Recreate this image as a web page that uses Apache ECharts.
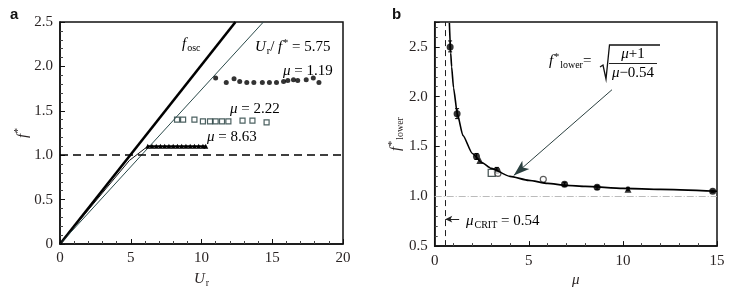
<!DOCTYPE html>
<html>
<head>
<meta charset="utf-8">
<script src="https://cdn.jsdelivr.net/npm/echarts@6/dist/echarts.min.js"></script>
<style>
  html, body { margin: 0; padding: 0; background: #fff; }
  #chart { width: 745px; height: 293px; }
</style>
</head>
<body>
<div id="chart"></div>
<script>
// ---- panel a: f* vs Ur ----
const foscLine = [[0, 0], [12.4, 2.5]]
const ratioLine = [[0, 0], [14.375, 2.5]]
const lowBranch = [[0, 0], [4.9, 0.94], [6.2, 1.1]]
const mu119 = [[11.0, 1.87], [11.75, 1.82], [12.3, 1.86], [12.7, 1.83], [13.2, 1.82], [13.7, 1.82], [14.3, 1.82],
  [14.8, 1.82], [15.3, 1.82], [15.8, 1.83], [16.1, 1.84], [16.5, 1.85], [16.8, 1.84], [17.4, 1.85], [17.9, 1.87], [18.3, 1.82]]
const mu222 = [[8.27, 1.40], [8.7, 1.40], [9.5, 1.40], [10.1, 1.38], [10.6, 1.38], [11.0, 1.38], [11.45, 1.38],
  [11.9, 1.38], [12.9, 1.39], [13.6, 1.39], [14.6, 1.37]]
const mu863 = [[6.2, 1.1], [6.5, 1.1], [6.8, 1.1], [7.1, 1.1], [7.4, 1.1], [7.7, 1.1], [8.0, 1.1], [8.3, 1.1],
  [8.6, 1.1], [8.9, 1.1], [9.2, 1.1], [9.5, 1.1], [9.8, 1.1], [10.1, 1.1], [10.3, 1.1]]

// ---- panel b: f*lower vs mu ----
const curveMu = [0.78, 0.85, 0.9, 1.0, 1.2, 1.5, 2, 2.5, 3, 4, 5, 6, 7, 8, 10, 12, 15]
const curveF = [2.74, 2.44, 2.30, 2.09, 1.83, 1.61, 1.43, 1.34, 1.28, 1.20, 1.16, 1.13, 1.11, 1.10, 1.08, 1.07, 1.05]
const filledPts = [[0.82, 2.5], [1.19, 1.83], [2.22, 1.40], [3.3, 1.26], [6.9, 1.12], [8.63, 1.09], [14.77, 1.05]]
const trianglePts = [[2.4, 1.36], [10.27, 1.07]]
const squarePts = [[3.03, 1.235]]
const circlePts = [[3.36, 1.23], [5.77, 1.17]]
const errorBars = [[0.82, 2.45, 2.56], [1.19, 1.78, 1.88], [2.22, 1.37, 1.43], [3.3, 1.23, 1.29],
  [6.9, 1.10, 1.14], [8.63, 1.07, 1.11], [10.27, 1.06, 1.09], [14.77, 1.04, 1.06]]
const muCrit = 0.54

const serif = '"Liberation Serif", "DejaVu Serif", serif'
const ink = '#2a2424'

const rich = {
  i: { fontFamily: serif, fontStyle: 'italic', fontSize: 15, color: ink },
  n: { fontFamily: serif, fontSize: 15, color: ink },
  sub: { fontFamily: serif, fontSize: 10, color: ink, padding: [8, 0, 0, 1] },
  sup: { fontFamily: serif, fontSize: 10, color: ink, padding: [0, 0, 8, 1] }
}

function label(x, y, text, align) {
  return {
    type: 'text', x: x, y: y, silent: true,
    style: { text: text, rich: rich, align: align || 'left', verticalAlign: 'middle' }
  }
}

function valueAxis(opt) {
  return Object.assign({
    type: 'value',
    axisLine: { show: true, lineStyle: { color: '#111', width: 1.5 } },
    axisTick: { show: true, inside: true, length: 5, lineStyle: { color: '#111' } },
    minorTick: { show: true, splitNumber: 5, length: 3, lineStyle: { color: '#444' } },
    splitLine: { show: false },
    axisLabel: { fontFamily: serif, fontSize: 15, color: ink, margin: 7 },
    nameLocation: 'middle',
    nameTextStyle: { rich: rich }
  }, opt)
}

const chart = echarts.init(document.getElementById('chart'), null, { renderer: 'canvas' })

chart.setOption({
  animation: false,
  backgroundColor: '#fff',
  grid: [
    { left: 60, top: 22, width: 283, height: 226.5, show: true, borderColor: '#111', borderWidth: 1.5 },
    { left: 434.7, top: 22, width: 282.3, height: 226.5, show: true, borderColor: '#111', borderWidth: 1.5 }
  ],
  xAxis: [
    valueAxis({ gridIndex: 0, min: 0, max: 20, interval: 5, name: '{i|U}{sub|r}', nameGap: 26 }),
    valueAxis({ gridIndex: 1, min: 0, max: 15, interval: 5, name: '{i|μ}', nameGap: 26 })
  ],
  yAxis: [
    valueAxis({
      gridIndex: 0, min: 0, max: 2.5, interval: 0.5, name: '{i|f}{sup|*}', nameGap: 26, nameRotate: 90,
      axisLabel: { fontFamily: serif, fontSize: 15, color: ink, margin: 7, formatter: v => v === 0 ? '0' : v.toFixed(1) }
    }),
    valueAxis({
      gridIndex: 1, min: 0.5, max: 2.75, interval: 0.5, name: '{i|f}{sup|*}{sub|lower}', nameGap: 26, nameRotate: 90,
      axisLabel: { fontFamily: serif, fontSize: 15, color: ink, margin: 7, showMaxLabel: false, formatter: v => v.toFixed(1) }
    })
  ],
  series: [
    {
      type: 'line', xAxisIndex: 0, yAxisIndex: 0, data: foscLine, symbol: 'none',
      lineStyle: { color: '#000', width: 2.6 },
      markLine: {
        silent: true, symbol: 'none', label: { show: false },
        lineStyle: { color: '#000', type: [8, 5], width: 1.6 },
        data: [{ yAxis: 1 }]
      }
    },
    { type: 'line', xAxisIndex: 0, yAxisIndex: 0, data: ratioLine, symbol: 'none', lineStyle: { color: '#2b4a4a', width: 1 } },
    { type: 'line', xAxisIndex: 0, yAxisIndex: 0, data: lowBranch, symbol: 'none', lineStyle: { color: '#111', width: 1 } },
    {
      type: 'scatter', xAxisIndex: 0, yAxisIndex: 0, data: mu119, symbol: 'circle', symbolSize: 5,
      itemStyle: { color: '#000' }
    },
    {
      type: 'scatter', xAxisIndex: 0, yAxisIndex: 0, data: mu222, symbol: 'rect', symbolSize: 5,
      itemStyle: { color: '#fff', borderColor: '#1f3a3a', borderWidth: 1.2 }
    },
    {
      type: 'line', xAxisIndex: 0, yAxisIndex: 0, data: mu863, symbol: 'triangle', symbolSize: 5,
      showAllSymbol: true, lineStyle: { color: '#000', width: 2 }, itemStyle: { color: '#000' }
    },
    // panel b
    {
      type: 'line', xAxisIndex: 1, yAxisIndex: 1, data: curveMu.map((m, k) => [m, curveF[k]]),
      symbol: 'none', smooth: 0.2, smoothMonotone: 'x', lineStyle: { color: '#000', width: 1.6 },
      markLine: {
        silent: true, symbol: 'none', label: { show: false },
        data: [
          { xAxis: muCrit, lineStyle: { color: '#222', type: [6, 4], width: 1 } },
          { yAxis: 1, lineStyle: { color: '#bbb', type: [7, 2, 1, 2], width: 1 } },
          [{ coord: [9.42, 2.07], symbol: 'none', lineStyle: { color: '#2b4040', width: 1, type: 'solid' } },
            { coord: [4.2, 1.21], symbol: 'arrow', symbolSize: [8, 16] }],
          [{ coord: [1.3, 0.77], symbol: 'none', lineStyle: { color: '#222', width: 1, type: 'solid' } },
            { coord: [0.56, 0.77], symbol: 'arrow', symbolSize: [5, 7] }]
        ]
      }
    },
    {
      type: 'custom', xAxisIndex: 1, yAxisIndex: 1, data: errorBars, silent: true,
      renderItem: function (params, api) {
        const p1 = api.coord([api.value(0), api.value(1)])
        const p2 = api.coord([api.value(0), api.value(2)])
        return {
          type: 'group',
          children: [
            { type: 'line', shape: { x1: p1[0], y1: p1[1], x2: p2[0], y2: p2[1] }, style: { stroke: '#000', lineWidth: 1.2 } },
            { type: 'line', shape: { x1: p1[0] - 2, y1: p1[1], x2: p1[0] + 2, y2: p1[1] }, style: { stroke: '#000', lineWidth: 1 } },
            { type: 'line', shape: { x1: p2[0] - 2, y1: p2[1], x2: p2[0] + 2, y2: p2[1] }, style: { stroke: '#000', lineWidth: 1 } }
          ]
        }
      }
    },
    { type: 'scatter', xAxisIndex: 1, yAxisIndex: 1, data: filledPts, symbol: 'circle', symbolSize: 7, itemStyle: { color: '#000' } },
    { type: 'scatter', xAxisIndex: 1, yAxisIndex: 1, data: trianglePts, symbol: 'triangle', symbolSize: 7, itemStyle: { color: '#000' } },
    {
      type: 'scatter', xAxisIndex: 1, yAxisIndex: 1, data: squarePts, symbol: 'rect', symbolSize: 7,
      itemStyle: { color: '#fff', borderColor: '#1f3030', borderWidth: 1.3 }
    },
    {
      type: 'scatter', xAxisIndex: 1, yAxisIndex: 1, data: circlePts, symbol: 'circle', symbolSize: 6,
      itemStyle: { color: '#fff', borderColor: '#333', borderWidth: 1.2 }
    }
  ],
  graphic: [
    { type: 'text', x: 10, y: 15, style: { text: 'a', font: 'bold 15px "Liberation Sans", Arial, sans-serif', fill: '#111', verticalAlign: 'middle' } },
    { type: 'text', x: 392, y: 15, style: { text: 'b', font: 'bold 15px "Liberation Sans", Arial, sans-serif', fill: '#111', verticalAlign: 'middle' } },
    label(182, 44, '{i|f}{sub|osc}'),
    label(255, 47, '{i|U}{sub|r}{n|/ }{i|f}{sup|*}{n| = 5.75}'),
    label(283, 71, '{i|μ}{n| = 1.19}'),
    label(230, 109, '{i|μ}{n| = 2.22}'),
    label(207, 137, '{i|μ}{n| = 8.63}'),
    label(466, 221, '{i|μ}{sub|CRIT}{n| = 0.54}'),
    label(549, 61, '{i|f}{sup|*}{sub|lower}{n|=}'),
    label(633, 54, '{i|μ}{n|+1}', 'center'),
    label(633, 73, '{i|μ}{n|−0.54}', 'center'),
    { type: 'line', shape: { x1: 609, y1: 63.5, x2: 657, y2: 63.5 }, style: { stroke: '#222', lineWidth: 1 } },
    {
      type: 'polyline',
      shape: { points: [[600, 67], [603, 65], [606, 79], [609.5, 45], [660, 45]] },
      style: { stroke: '#111', lineWidth: 1.3, fill: null }
    }
  ]
})
</script>
</body>
</html>
